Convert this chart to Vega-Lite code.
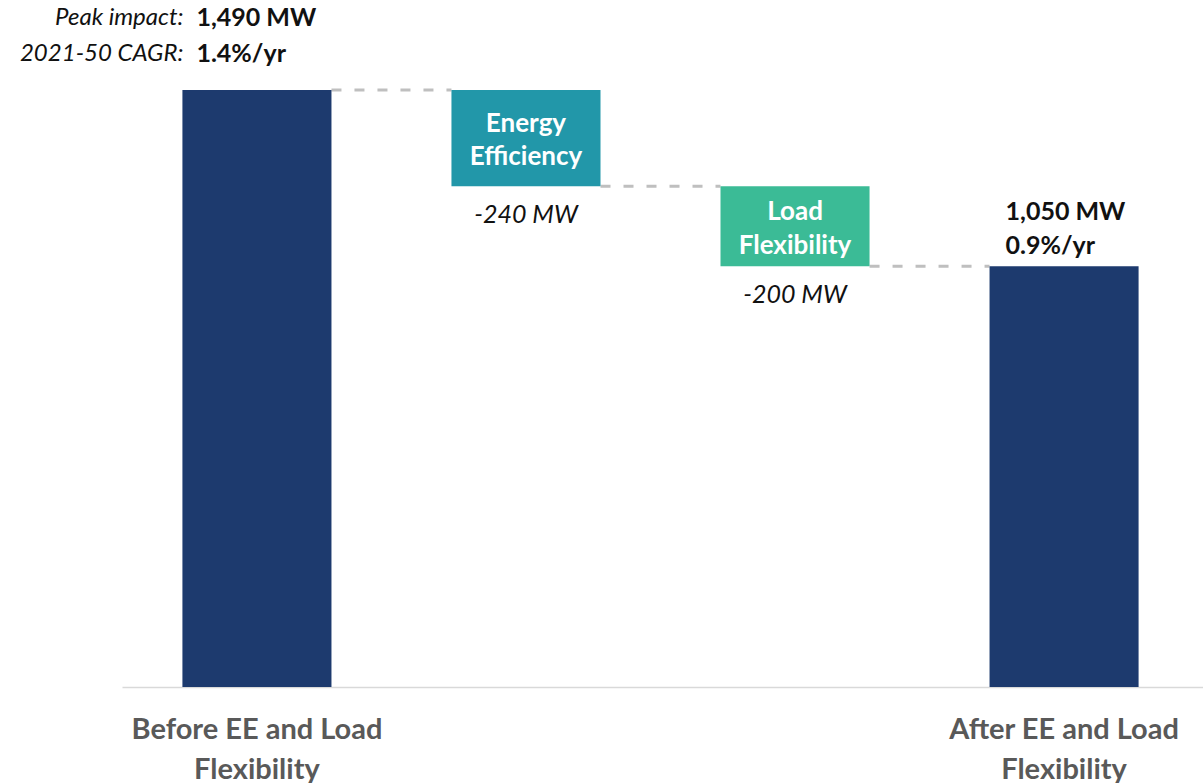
{
  "$schema": "https://vega.github.io/schema/vega-lite/v6.json",
  "autosize": "none",
  "padding": {"left": 122, "top": 0, "right": 0, "bottom": 96},
  "width": 1081,
  "height": 687,
  "background": "white",
  "config": {"view": {"stroke": null}, "font": "Lato"},
  "datasets": {
    "bars": [
      {"cat": "Before EE and Load Flexibility", "start": 0, "end": 1490, "kind": "total"},
      {"cat": "Energy Efficiency", "start": 1250, "end": 1490, "kind": "ee"},
      {"cat": "Load Flexibility", "start": 1050, "end": 1250, "kind": "lf"},
      {"cat": "After EE and Load Flexibility", "start": 0, "end": 1050, "kind": "total"}
    ],
    "connectors": [
      {"from": "Before EE and Load Flexibility", "to": "Energy Efficiency", "level": 1490},
      {"from": "Energy Efficiency", "to": "Load Flexibility", "level": 1250},
      {"from": "Load Flexibility", "to": "After EE and Load Flexibility", "level": 1050}
    ]
  },
  "encoding": {
    "x": {
      "field": "cat", "type": "nominal", "sort": null,
      "scale": {"domain": ["Before EE and Load Flexibility", "Energy Efficiency", "Load Flexibility", "After EE and Load Flexibility"], "paddingInner": 0.446, "paddingOuter": 0.232, "align": 0.484},
      "axis": {"title": null, "labels": false, "ticks": false, "domainColor": "#d9d9d9", "domainWidth": 1.5}
    }
  },
  "layer": [
    {
      "data": {"name": "connectors"},
      "mark": {"type": "rule", "color": "#bfbfbf", "strokeWidth": 3, "strokeDash": [10, 13]},
      "encoding": {
        "x": {"field": "from", "type": "nominal", "bandPosition": 1},
        "x2": {"field": "to", "bandPosition": 0},
        "y": {"field": "level", "type": "quantitative", "scale": {"domain": [0, 1714.6], "nice": false, "zero": true}, "axis": null}
      }
    },
    {
      "data": {"name": "bars"},
      "mark": {"type": "bar"},
      "encoding": {
        "y": {"field": "start", "type": "quantitative", "scale": {"domain": [0, 1714.6], "nice": false}, "axis": null},
        "y2": {"field": "end"},
        "color": {"field": "kind", "type": "nominal", "scale": {"domain": ["total", "ee", "lf"], "range": ["#1d3a6e", "#2297a9", "#3bbb96"]}, "legend": null}
      }
    },
    {
      "data": {"values": [
        {"cat": "Before EE and Load Flexibility", "v": 0, "t": "Before EE and Load\nFlexibility"},
        {"cat": "After EE and Load Flexibility", "v": 0, "t": "After EE and Load\nFlexibility"}
      ]},
      "mark": {"type": "text", "lineBreak": "\n", "lineHeight": 40, "fontSize": 29, "fontWeight": "bold", "color": "#595959", "baseline": "middle", "align": "center", "dy": 43},
      "encoding": {"y": {"field": "v", "type": "quantitative"}, "text": {"field": "t"}}
    },
    {
      "data": {"values": [
        {"cat": "Energy Efficiency", "v": 1490, "t": "Energy\nEfficiency"},
        {"cat": "Load Flexibility", "v": 1250, "t": "Load\nFlexibility"}
      ]},
      "layer": [
        {
          "transform": [{"filter": "datum.cat == 'Energy Efficiency'"}],
          "mark": {"type": "text", "lineBreak": "\n", "lineHeight": 33, "fontSize": 26, "fontWeight": "bold", "color": "white", "baseline": "middle", "align": "center", "dy": 34},
          "encoding": {"y": {"field": "v", "type": "quantitative"}, "text": {"field": "t"}}
        },
        {
          "transform": [{"filter": "datum.cat == 'Load Flexibility'"}],
          "mark": {"type": "text", "lineBreak": "\n", "lineHeight": 34, "fontSize": 26, "fontWeight": "bold", "color": "white", "baseline": "middle", "align": "center", "dy": 26},
          "encoding": {"y": {"field": "v", "type": "quantitative"}, "text": {"field": "t"}}
        }
      ]
    },
    {
      "data": {"values": [
        {"cat": "Energy Efficiency", "v": 1250, "t": "-240 MW"},
        {"cat": "Load Flexibility", "v": 1050, "t": "-200 MW"}
      ]},
      "mark": {"type": "text", "fontSize": 25, "fontStyle": "italic", "color": "#111111", "baseline": "middle", "align": "center", "dy": 29},
      "encoding": {"y": {"field": "v", "type": "quantitative"}, "text": {"field": "t"}}
    },
    {
      "data": {"values": [
        {"cat": "Before EE and Load Flexibility", "v": 1490, "t": "Peak impact:\n2021-50 CAGR:"}
      ]},
      "mark": {"type": "text", "lineBreak": "\n", "lineHeight": 36, "fontSize": 24, "fontStyle": "italic", "color": "#111111", "baseline": "middle", "align": "right", "dx": 1, "dy": -72},
      "encoding": {"x": {"field": "cat", "type": "nominal", "bandPosition": 0}, "y": {"field": "v", "type": "quantitative"}, "text": {"field": "t"}}
    },
    {
      "data": {"values": [
        {"cat": "Before EE and Load Flexibility", "v": 1490, "t": "1,490 MW\n1.4%/yr"},
        {"cat": "After EE and Load Flexibility", "v": 1050, "t": "1,050 MW\n0.9%/yr"}
      ]},
      "layer": [
        {
          "transform": [{"filter": "datum.v == 1490"}],
          "mark": {"type": "text", "lineBreak": "\n", "lineHeight": 36, "fontSize": 25, "fontWeight": "bold", "color": "#111111", "baseline": "middle", "align": "left", "dx": 14, "dy": -72},
          "encoding": {"x": {"field": "cat", "type": "nominal", "bandPosition": 0}, "y": {"field": "v", "type": "quantitative"}, "text": {"field": "t"}}
        },
        {
          "transform": [{"filter": "datum.v == 1050"}],
          "mark": {"type": "text", "lineBreak": "\n", "lineHeight": 34, "fontSize": 25, "fontWeight": "bold", "color": "#111111", "baseline": "middle", "align": "left", "dx": 16, "dy": -54},
          "encoding": {"x": {"field": "cat", "type": "nominal", "bandPosition": 0}, "y": {"field": "v", "type": "quantitative"}, "text": {"field": "t"}}
        }
      ]
    }
  ]
}
